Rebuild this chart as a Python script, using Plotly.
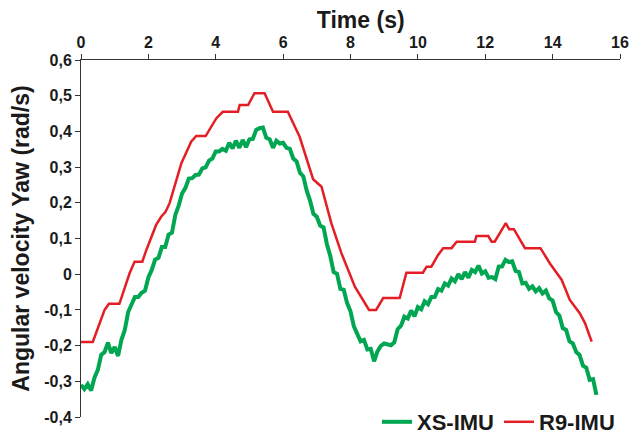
import plotly.graph_objects as go

# ---- data ----
# R9-IMU (stepped signal): time (s) and angular velocity (rad/s)
r9_t = [0.0, 0.35, 0.70, 0.83, 1.14, 1.44, 1.59, 1.82, 1.94, 2.23, 2.38, 2.51, 2.63,
        2.78, 2.98, 3.27, 3.42, 3.70, 3.82, 4.02, 4.21, 4.66, 4.71, 4.96, 5.15, 5.45,
        5.70, 6.14, 6.49, 6.89, 7.14, 7.43, 7.73, 8.13, 8.55, 8.76, 8.97, 9.46, 9.66,
        10.15, 10.26, 10.40, 10.60, 10.75, 11.00, 11.15, 11.69, 11.74, 12.09, 12.19,
        12.28, 12.43, 12.61, 12.71, 12.85, 13.18, 13.64, 13.92, 14.27, 14.51, 14.81,
        14.96, 15.16]
r9_v = [-0.19, -0.19, -0.10, -0.083, -0.083, 0.002, 0.035, 0.035, 0.068, 0.138, 0.161,
        0.175, 0.199, 0.245, 0.311, 0.371, 0.387, 0.387, 0.406, 0.437, 0.455, 0.455,
        0.474, 0.474, 0.507, 0.507, 0.455, 0.455, 0.385, 0.266, 0.245, 0.143, 0.059,
        -0.035, -0.10, -0.10, -0.067, -0.067, 0.004, 0.004, 0.021, 0.021, 0.054, 0.073,
        0.073, 0.091, 0.091, 0.107, 0.107, 0.091, 0.091, 0.115, 0.143, 0.126, 0.126,
        0.073, 0.073, 0.030, -0.016, -0.072, -0.11, -0.137, -0.189]

# XS-IMU (noisy signal) sampled every 0.1 s
xs_dt = 0.1
xs_v = [-0.31, -0.322, -0.308, -0.326, -0.29, -0.268, -0.226, -0.218, -0.192, -0.221,
        -0.204, -0.229, -0.184, -0.156, -0.106, -0.084, -0.064, -0.064, -0.052, -0.046,
        -0.009, 0.012, 0.041, 0.046, 0.076, 0.076, 0.111, 0.116, 0.166, 0.192,
        0.226, 0.242, 0.268, 0.269, 0.278, 0.279, 0.296, 0.299, 0.318, 0.324,
        0.344, 0.344, 0.351, 0.346, 0.368, 0.352, 0.374, 0.354, 0.376, 0.356, 0.378,
        0.379, 0.404, 0.409, 0.411, 0.382, 0.378, 0.354, 0.374, 0.366, 0.368,
        0.354, 0.351, 0.324, 0.316, 0.284, 0.274, 0.234, 0.206, 0.169, 0.161,
        0.136, 0.131, 0.084, 0.051, 0.006, 0.001, -0.041, -0.044, -0.081, -0.104,
        -0.146, -0.166, -0.188, -0.184, -0.211, -0.209, -0.244, -0.216, -0.201, -0.194,
        -0.196, -0.199, -0.191, -0.154, -0.144, -0.119, -0.124, -0.102, -0.118, -0.092,
        -0.098, -0.076, -0.084, -0.064, -0.064, -0.042, -0.046, -0.026, -0.032, -0.012,
        -0.02, 0.0, -0.014, 0.006, -0.01, 0.012, 0.006, 0.024, 0.002, 0.008,
        -0.01, -0.008, -0.014, 0.021, 0.022, 0.04, 0.034, 0.036, 0.009, 0.006, -0.026,
        -0.024, -0.041, -0.034, -0.048, -0.039, -0.054, -0.046, -0.068, -0.074, -0.106,
        -0.116, -0.151, -0.156, -0.188, -0.194, -0.218, -0.226, -0.256, -0.262, -0.296,
        -0.294, -0.338]
xs_t = [round(i * xs_dt, 2) for i in range(len(xs_v))]

x_ticks = [0, 2, 4, 6, 8, 10, 12, 14, 16]
y_ticks = [0.6, 0.5, 0.4, 0.3, 0.2, 0.1, 0, -0.1, -0.2, -0.3, -0.4]
y_tick_labels = ["0,6", "0,5", "0,4", "0,3", "0,2", "0,1", "0", "-0,1", "-0,2", "-0,3", "-0,4"]

GREEN = "#00a651"
RED = "#e31e24"
FONT = "Liberation Sans"
TXT = "#1a1a1a"

W, H = 636, 436  # page adds an 8px body margin at the top-left of the figure

fig = go.Figure()
fig.add_trace(go.Scatter(x=xs_t, y=xs_v, mode="lines", name="XS-IMU",
                         line=dict(color=GREEN, width=4)))
fig.add_trace(go.Scatter(x=r9_t, y=r9_v, mode="lines", name="R9-IMU",
                         line=dict(color=RED, width=2.5)))

fig.update_layout(
    width=W, height=H,
    margin=dict(l=73, r=W - 612, t=52, b=H - 409, autoexpand=False),
    paper_bgcolor="white", plot_bgcolor="white",
    font=dict(family=FONT, color=TXT),
    title=dict(text="Time (s)", x=0.519, xref="paper", xanchor="center",
               y=1 - 12 / H, yref="container", yanchor="middle",
               font=dict(family=FONT, size=23, weight="bold", color=TXT)),
    showlegend=True,
    legend=dict(orientation="h", x=1.0, xanchor="right", y=1 - 414 / H,
                yref="container", yanchor="middle",
                font=dict(family=FONT, size=22, weight="bold", color=TXT),
                bgcolor="rgba(0,0,0,0)", itemwidth=30, tracegroupgap=0),
)
fig.update_xaxes(
    range=[0, 16], side="top", tickvals=x_ticks, ticks="outside", ticklen=5,
    tickcolor="#333", showline=True, linecolor="#333", linewidth=1, showgrid=False,
    zeroline=False, automargin=False,
    tickfont=dict(family=FONT, size=16, weight="bold", color=TXT),
)
fig.update_yaxes(
    range=[-0.4, 0.6], tickvals=y_ticks, ticktext=y_tick_labels, ticks="outside",
    ticklen=5, tickcolor="#333", showline=True, linecolor="#333", linewidth=1,
    showgrid=False, zeroline=False, automargin=False,
    tickfont=dict(family=FONT, size=16, weight="bold", color=TXT),
    title=dict(text="Angular velocity Yaw (rad/s)", standoff=8,
               font=dict(family=FONT, size=23, weight="bold", color=TXT)),
)

fig.write_html("out.html")
